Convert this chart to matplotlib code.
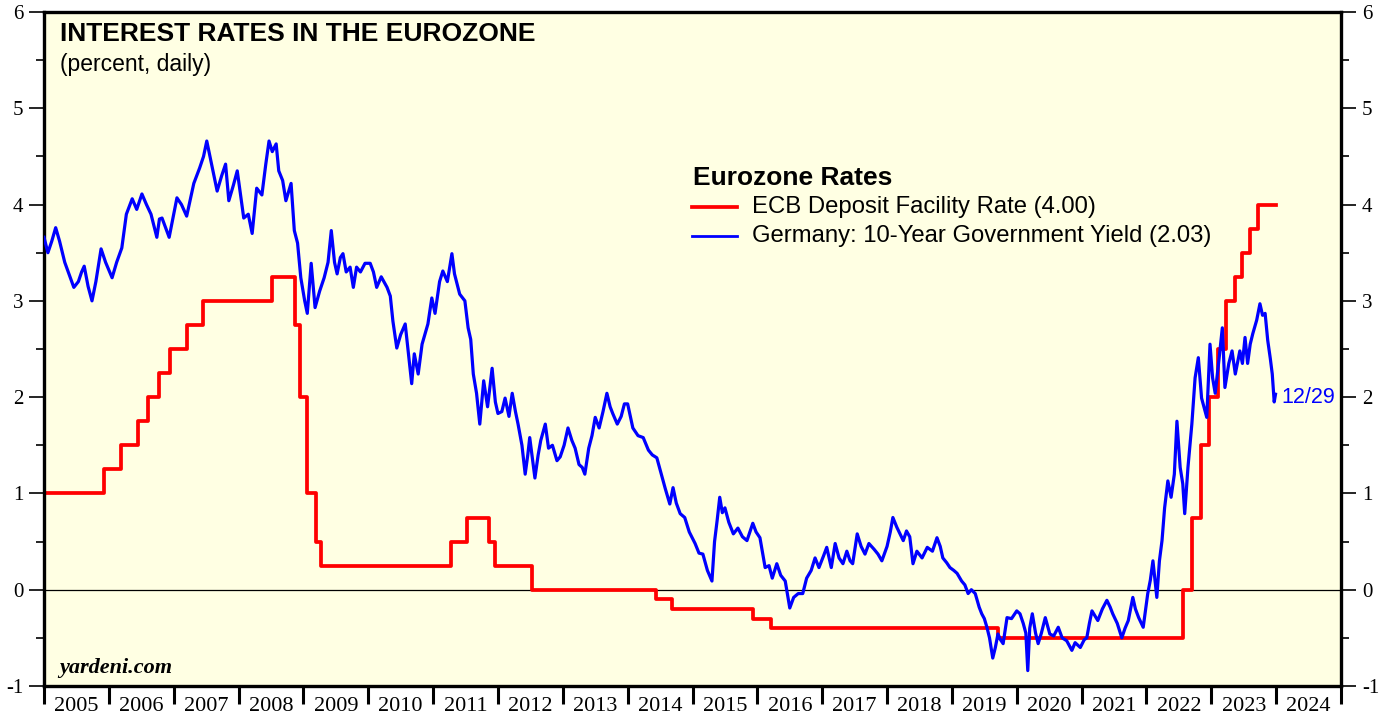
import numpy as np
import matplotlib.pyplot as plt
from matplotlib.lines import Line2D

plt.rcParams['axes.unicode_minus'] = False

# ECB deposit facility rate (step changes, decimal year)
ecb_t = [2005.00, 2005.93, 2006.18, 2006.45, 2006.61, 2006.78, 2006.95, 2007.20, 2007.45,
         2008.52, 2008.87, 2008.94, 2009.05, 2009.19, 2009.27, 2011.28, 2011.53, 2011.86,
         2011.95, 2012.52, 2014.44, 2014.69, 2015.94, 2016.21, 2019.71, 2022.57, 2022.70,
         2022.84, 2022.97, 2023.10, 2023.22, 2023.36, 2023.47, 2023.59, 2023.72, 2024.00]
ecb_v = [1.00, 1.25, 1.50, 1.75, 2.00, 2.25, 2.50, 2.75, 3.00,
         3.25, 2.75, 2.00, 1.00, 0.50, 0.25, 0.50, 0.75, 0.50,
         0.25, 0.00, -0.10, -0.20, -0.30, -0.40, -0.50, 0.00, 0.75,
         1.50, 2.00, 2.50, 3.00, 3.25, 3.50, 3.75, 4.00, 4.00]

# Germany 10-year government yield
bund_t = [2005.00, 2005.06, 2005.12, 2005.18, 2005.24, 2005.32, 2005.40, 2005.46, 2005.53, 2005.58,
          2005.62, 2005.68, 2005.74, 2005.80, 2005.88, 2005.95, 2006.05, 2006.12, 2006.20, 2006.27,
          2006.36, 2006.43, 2006.51, 2006.58, 2006.65, 2006.74, 2006.78, 2006.82, 2006.88, 2006.93,
          2007.00, 2007.05, 2007.12, 2007.20, 2007.31, 2007.40, 2007.46, 2007.51, 2007.55, 2007.62,
          2007.67, 2007.74, 2007.80, 2007.85, 2007.92, 2007.98, 2008.08, 2008.15, 2008.21, 2008.28,
          2008.36, 2008.42, 2008.47, 2008.52, 2008.58, 2008.62, 2008.68, 2008.73, 2008.81, 2008.86,
          2008.91, 2008.96, 2009.02, 2009.06, 2009.12, 2009.18, 2009.25, 2009.32, 2009.38, 2009.43,
          2009.48, 2009.52, 2009.57, 2009.61, 2009.66, 2009.72, 2009.77, 2009.82, 2009.88, 2009.95,
          2010.03, 2010.08, 2010.13, 2010.20, 2010.29, 2010.34, 2010.38, 2010.44, 2010.50, 2010.57,
          2010.62, 2010.67, 2010.71, 2010.77, 2010.83, 2010.92, 2010.98, 2011.03, 2011.10, 2011.15,
          2011.22, 2011.29, 2011.33, 2011.41, 2011.49, 2011.54, 2011.58, 2011.62, 2011.67, 2011.72,
          2011.78, 2011.84, 2011.91, 2011.96, 2012.00, 2012.06, 2012.11, 2012.17, 2012.22, 2012.27,
          2012.31, 2012.37, 2012.42, 2012.46, 2012.49, 2012.57, 2012.62, 2012.66, 2012.73, 2012.78,
          2012.84, 2012.91, 2012.96, 2013.02, 2013.08, 2013.14, 2013.19, 2013.25, 2013.30, 2013.34,
          2013.40, 2013.45, 2013.50, 2013.56, 2013.62, 2013.68, 2013.73, 2013.77, 2013.84, 2013.90,
          2013.95, 2014.00, 2014.08, 2014.16, 2014.24, 2014.32, 2014.38, 2014.45, 2014.52, 2014.58,
          2014.65, 2014.70, 2014.75, 2014.81, 2014.88, 2014.95, 2015.04, 2015.10, 2015.16, 2015.23,
          2015.30, 2015.34, 2015.38, 2015.42, 2015.46, 2015.50, 2015.56, 2015.63, 2015.70, 2015.77,
          2015.84, 2015.93, 2015.98, 2016.04, 2016.12, 2016.18, 2016.23, 2016.30, 2016.36, 2016.43,
          2016.50, 2016.56, 2016.63, 2016.70, 2016.76, 2016.83, 2016.89, 2016.95, 2017.02, 2017.07,
          2017.14, 2017.20, 2017.26, 2017.32, 2017.38, 2017.43, 2017.47, 2017.54, 2017.60, 2017.66,
          2017.72, 2017.80, 2017.86, 2017.92, 2018.00, 2018.05, 2018.09, 2018.15, 2018.25, 2018.30,
          2018.35, 2018.40, 2018.46, 2018.54, 2018.62, 2018.70, 2018.77, 2018.82, 2018.86, 2018.92,
          2018.97, 2019.03, 2019.08, 2019.15, 2019.20, 2019.25, 2019.30, 2019.36, 2019.42, 2019.46,
          2019.50, 2019.54, 2019.58, 2019.63, 2019.67, 2019.71, 2019.75, 2019.79, 2019.85, 2019.92,
          2020.00, 2020.05, 2020.10, 2020.14, 2020.17, 2020.20, 2020.24, 2020.29, 2020.33, 2020.38,
          2020.44, 2020.51, 2020.57, 2020.64, 2020.70, 2020.77, 2020.85, 2020.90, 2020.98, 2021.04,
          2021.08, 2021.12, 2021.16, 2021.25, 2021.32, 2021.39, 2021.44, 2021.48, 2021.55, 2021.62,
          2021.67, 2021.72, 2021.79, 2021.83, 2021.88, 2021.95, 2022.02, 2022.06, 2022.10, 2022.16,
          2022.20, 2022.24, 2022.28, 2022.33, 2022.38, 2022.43, 2022.47, 2022.52, 2022.56, 2022.59,
          2022.64, 2022.70, 2022.75, 2022.80, 2022.85, 2022.93, 2022.98, 2023.02, 2023.06, 2023.12,
          2023.17, 2023.21, 2023.27, 2023.32, 2023.37, 2023.44, 2023.48, 2023.52, 2023.56, 2023.60,
          2023.64, 2023.70, 2023.75, 2023.79, 2023.83, 2023.87, 2023.91, 2023.94, 2023.97, 2023.99]
bund_v = [3.66, 3.50, 3.62, 3.76, 3.62, 3.40, 3.25, 3.14, 3.20, 3.30,
          3.36, 3.15, 3.00, 3.20, 3.54, 3.40, 3.24, 3.40, 3.55, 3.90,
          4.06, 3.95, 4.11, 4.00, 3.90, 3.66, 3.85, 3.86, 3.75, 3.66,
          3.90, 4.07, 4.00, 3.88, 4.22, 4.38, 4.50, 4.66, 4.53, 4.30,
          4.14, 4.30, 4.42, 4.04, 4.20, 4.35, 3.86, 3.90, 3.70, 4.17,
          4.10, 4.42, 4.66, 4.55, 4.63, 4.35, 4.25, 4.04, 4.22, 3.73,
          3.60, 3.24, 3.00, 2.87, 3.39, 2.93, 3.10, 3.24, 3.40, 3.73,
          3.40, 3.28, 3.45, 3.49, 3.30, 3.35, 3.14, 3.35, 3.30, 3.39,
          3.39, 3.30, 3.14, 3.25, 3.14, 3.05, 2.79, 2.51, 2.65, 2.76,
          2.45, 2.14, 2.45, 2.24, 2.55, 2.76, 3.03, 2.87, 3.20, 3.31,
          3.20, 3.49, 3.28, 3.07, 3.00, 2.72, 2.60, 2.24, 2.04, 1.72,
          2.17, 1.90, 2.30, 1.95, 1.83, 1.85, 1.99, 1.80, 2.04, 1.85,
          1.72, 1.50, 1.20, 1.40, 1.58, 1.16, 1.40, 1.55, 1.72, 1.47,
          1.50, 1.34, 1.38, 1.50, 1.68, 1.55, 1.47, 1.30, 1.27, 1.20,
          1.47, 1.60, 1.79, 1.68, 1.85, 2.04, 1.90, 1.83, 1.72, 1.80,
          1.93, 1.93, 1.68, 1.60, 1.58, 1.45, 1.40, 1.37, 1.20, 1.05,
          0.89, 1.06, 0.90, 0.79, 0.75, 0.60, 0.48, 0.38, 0.37, 0.20,
          0.09, 0.50, 0.72, 0.96, 0.80, 0.85, 0.70, 0.58, 0.64, 0.55,
          0.51, 0.69, 0.60, 0.54, 0.23, 0.25, 0.12, 0.27, 0.15, 0.09,
          -0.19, -0.08, -0.04, -0.04, 0.12, 0.20, 0.33, 0.23, 0.35, 0.44,
          0.23, 0.48, 0.33, 0.27, 0.40, 0.30, 0.27, 0.58, 0.45, 0.37,
          0.48, 0.42, 0.37, 0.30, 0.45, 0.60, 0.75, 0.65, 0.51, 0.61,
          0.55, 0.27, 0.40, 0.33, 0.44, 0.40, 0.54, 0.45, 0.33, 0.28,
          0.23, 0.20, 0.17, 0.09, 0.05, -0.04, 0.00, -0.04, -0.18, -0.25,
          -0.30, -0.39, -0.50, -0.71, -0.60, -0.46, -0.52, -0.56, -0.29, -0.30,
          -0.22, -0.25, -0.35, -0.45, -0.84, -0.40, -0.25, -0.45, -0.56, -0.45,
          -0.29, -0.46, -0.48, -0.39, -0.50, -0.53, -0.63, -0.55, -0.60, -0.52,
          -0.50, -0.35, -0.22, -0.32, -0.20, -0.11, -0.18, -0.25, -0.35, -0.50,
          -0.40, -0.32, -0.08, -0.20, -0.29, -0.39, -0.04, 0.10, 0.30, -0.08,
          0.30, 0.51, 0.85, 1.13, 0.96, 1.20, 1.75, 1.27, 1.10, 0.79,
          1.27, 1.72, 2.20, 2.41, 1.99, 1.79, 2.55, 2.20, 2.04, 2.40,
          2.72, 2.10, 2.35, 2.48, 2.24, 2.48, 2.35, 2.62, 2.35, 2.55,
          2.66, 2.80, 2.97, 2.85, 2.87, 2.59, 2.40, 2.24, 1.95, 2.03]

years = list(range(2005, 2025))
y_ticks = [-1, 0, 1, 2, 3, 4, 5, 6]

W, H = 1392, 719
fig = plt.figure(figsize=(W / 100, H / 100), dpi=100)
ax = fig.add_axes([44 / W, 1 - 686 / H, (1341 - 44) / W, (686 - 12) / H])
ax.set_facecolor('#FFFFE3')

ax.axhline(0, color='black', lw=0.9, zorder=1)
ax.step(ecb_t, ecb_v, where='post', color='#FF0000', lw=2.7, zorder=2)
ax.plot(bund_t, bund_v, color='#0000FF', lw=2.3, zorder=3)

ax.set_xlim(2005, 2025)
ax.set_ylim(-1, 6)

serif = 'Liberation Serif'
sans = 'Liberation Sans'

# y axis on both sides
ax.set_yticks(y_ticks)
ax.set_yticks(np.arange(-0.5, 6, 1.0), minor=True)
ax.tick_params(axis='y', which='major', direction='out', length=11, width=1.2,
               labelsize=15, left=True, right=True, labelleft=True, labelright=True, pad=4)
ax.tick_params(axis='y', which='minor', direction='out', length=6, width=1.2,
               left=True, right=True)
for lab in ax.get_yticklabels():
    lab.set_fontfamily(serif)

# x axis: ticks at year boundaries, labels mid-year
ax.set_xticks(years + [2025])
ax.set_xticklabels([])
ax.set_xticks([y + 0.5 for y in years], minor=True)
ax.set_xticklabels([str(y) for y in years], minor=True, fontfamily=serif, fontsize=16)
ax.tick_params(axis='x', which='major', direction='out', length=13, width=2.2)
ax.tick_params(axis='x', which='minor', length=0, pad=8)

for s in ax.spines.values():
    s.set_linewidth(2.4)

def px(x, y):
    return x / W, 1 - y / H

fig.text(*px(60, 34), 'INTEREST RATES IN THE EUROZONE', fontfamily=sans, fontweight='bold',
         fontsize=19, va='center', ha='left')
fig.text(*px(60, 64), '(percent, daily)', fontfamily=sans, fontsize=16.5, va='center', ha='left')
fig.text(*px(59, 668), 'yardeni.com', fontfamily=serif, fontweight='bold', fontstyle='italic',
         fontsize=16, va='center', ha='left')

# legend
fig.text(*px(693, 178), 'Eurozone Rates', fontfamily=sans, fontweight='bold', fontsize=19,
         va='center', ha='left')
for yy, col, lw, txt in [(207, '#FF0000', 2.7, 'ECB Deposit Facility Rate (4.00)'),
                         (236, '#0000FF', 2.0, 'Germany: 10-Year Government Yield (2.03)')]:
    x0, y0 = px(692, yy)
    x1, _ = px(737, yy)
    fig.add_artist(Line2D([x0, x1], [y0, y0], color=col, lw=lw, transform=fig.transFigure))
    fig.text(*px(752, yy), txt, fontfamily=sans, fontsize=17.2, va='center', ha='left')

ax.text(bund_t[-1] + 0.09, 2.0, '12/29', color='#0000FF', fontfamily=sans, fontsize=15.5,
        va='center', ha='left')

fig.savefig('out.png', dpi=100)
